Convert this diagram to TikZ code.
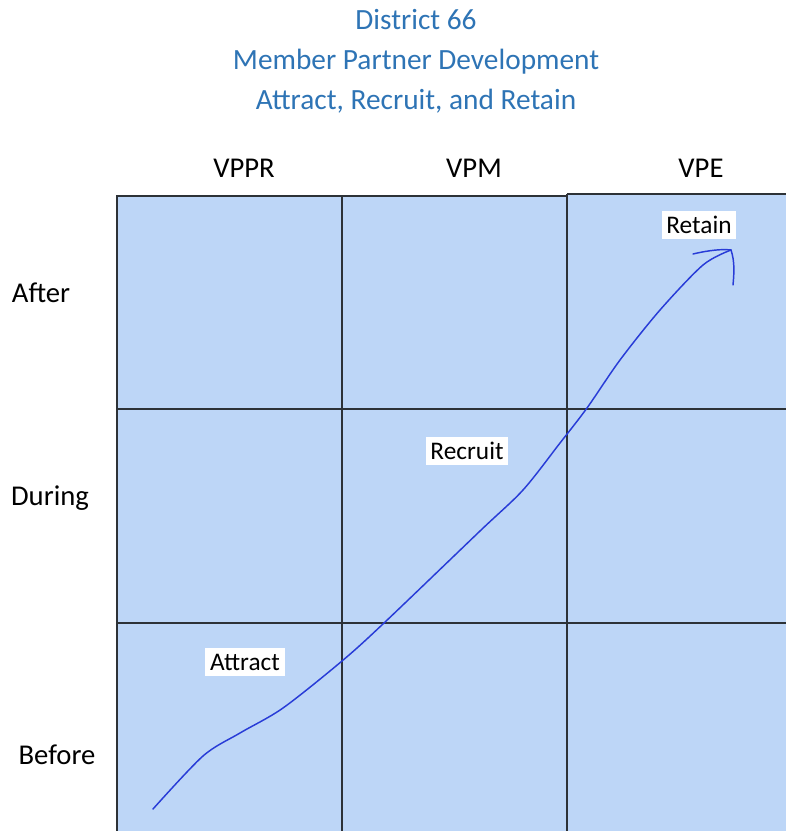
\documentclass[tikz,border=0pt]{standalone}
\usepackage{fontspec}
\setmainfont{Carlito}
\definecolor{titleblue}{RGB}{46,116,181}
\definecolor{cellblue}{RGB}{189,214,247}
\definecolor{gridline}{RGB}{45,50,55}
\definecolor{penblue}{RGB}{40,60,215}
\tikzset{
  titletext/.style={text=titleblue, font=\fontsize{22}{26}\selectfont, anchor=center},
  headtext/.style={text=black, font=\fontsize{21.5}{25}\selectfont, anchor=center},
  tagbox/.style={fill=white, text=black, font=\fontsize{19}{22}\selectfont, inner xsep=3.5pt, inner ysep=4pt, anchor=center},
  gridstroke/.style={draw=gridline, line width=1pt},
  pen/.style={draw=penblue, line width=1.1pt, line cap=round, line join=round}
}
\begin{document}
\begin{tikzpicture}[x=0.75pt,y=-0.75pt]
\useasboundingbox (0,0) rectangle (786,831);
% title
\node[titletext] (t1) at (416,20) {District 66};
\node[titletext] (t2) at (416,62) {Member Partner Development};
\node[titletext] (t3) at (416,101) {Attract, Recruit, and Retain};
% column heads
\node[headtext] (c1) at (244,168) {VPPR};
\node[headtext] (c2) at (474,168) {VPM};
\node[headtext] (c3) at (701,168) {VPE};
% row heads
\node[headtext] (r1) at (41,293) {After};
\node[headtext] (r2) at (50,498) {During};
\node[headtext] (r3) at (57,755) {Before};
% grid of cells
\fill[cellblue] (117,196) rectangle (567,831);
\fill[cellblue] (567,194) rectangle (786,831);
\draw[gridstroke] (117,831) -- (117,196) -- (567,196);
\draw[gridstroke] (567,194) -- (786,194);
\draw[gridstroke] (342,196) -- (342,831);
\draw[gridstroke] (567,194) -- (567,831);
\draw[gridstroke] (117,409) -- (786,409);
\draw[gridstroke] (117,623) -- (786,623);
% hand-drawn progression curve
\draw[pen] plot[smooth, tension=0.5] coordinates {
  (153,809) (203,756) (240,733) (283,708) (342,661) (384,623)
  (480,531) (523,490) (560,443) (587,408) (620,360) (660,310)
  (703,265) (731,250)};
\coordinate (tip) at (731,250);
\draw[pen] (693,254) .. controls (710,250) and (722,249) .. (tip);
\draw[pen] (tip) .. controls (735,262) and (734,274) .. (733,285);
% stage labels
\node[tagbox] (retain) at (699,225) {Retain};
\node[tagbox] (recruit) at (467,451) {Recruit};
\node[tagbox] (attract) at (245,662) {Attract};
\end{tikzpicture}
\end{document}
